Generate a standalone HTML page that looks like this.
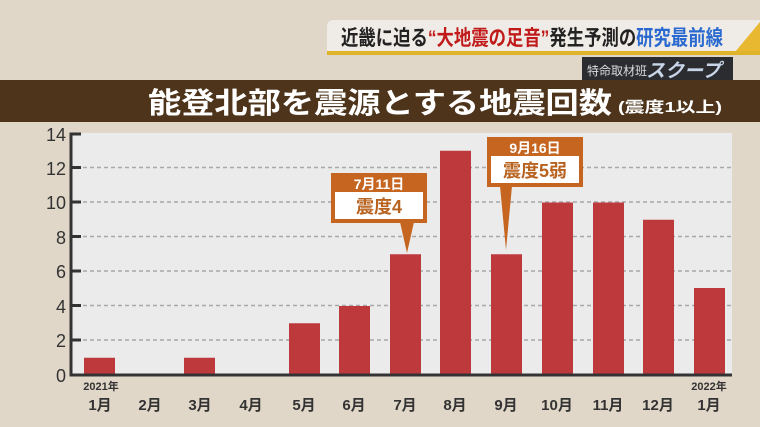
<!DOCTYPE html>
<html><head><meta charset="utf-8"><style>
html,body{margin:0;padding:0;background:#e0d7c9;}
svg{display:block;}
text{font-family:"Liberation Sans","Noto Sans CJK JP",sans-serif;}
</style></head><body>
<svg width="760" height="427" viewBox="0 0 760 427" xmlns="http://www.w3.org/2000/svg">
<rect width="760" height="427" fill="#e0d7c9"/>
<!-- top banner -->
<path d="M334 20 H760 V52 H327 V27 Q327 20 334 20Z" fill="#efebe6"/>
<path d="M735 52 L760 22 V52Z" fill="#e8b830"/>
<rect x="327" y="51" width="433" height="4" fill="#e0b42a"/>
<text x="341" y="45" font-size="21" font-weight="bold" fill="#222" textLength="382" lengthAdjust="spacingAndGlyphs">近畿に迫る<tspan fill="#c01a1a">“大地震の足音”</tspan>発生予測の<tspan fill="#2a6ad0">研究最前線</tspan></text>
<rect x="582" y="57" width="151" height="25" fill="#2a2c30"/>
<text x="587" y="75" font-size="12" fill="#ddd" font-family="Liberation Serif,'Noto Serif CJK SC',serif">特命取材班</text>
<text x="646" y="77" font-size="19" font-style="italic" font-weight="bold" fill="#c8d4e8">スクープ</text>
<!-- header -->
<rect x="0" y="80" width="760" height="42" fill="#4d341b"/>
<text x="148" y="113" font-size="29" font-weight="bold" fill="#fff" textLength="464" lengthAdjust="spacingAndGlyphs">能登北部を震源とする地震回数</text>
<text x="618" y="112" font-size="15" font-weight="bold" fill="#fff" textLength="104" lengthAdjust="spacingAndGlyphs">(震度1以上)</text>
<!-- plot bg -->
<rect x="72" y="133" width="660" height="242" fill="#ebebeb"/>
<g stroke="#a8a8a8" stroke-width="1.5" stroke-dasharray="4,3">
<line x1="76" y1="167.5" x2="732" y2="167.5"/>
<line x1="76" y1="202" x2="732" y2="202"/>
<line x1="76" y1="236.5" x2="732" y2="236.5"/>
<line x1="76" y1="271" x2="732" y2="271"/>
<line x1="76" y1="305.5" x2="732" y2="305.5"/>
<line x1="76" y1="340" x2="732" y2="340"/>
</g>
<g fill="#be393c">
<rect x="84" y="357.75" width="31" height="17.25"/>
<rect x="184" y="357.75" width="31" height="17.25"/>
<rect x="289" y="323.25" width="31" height="51.75"/>
<rect x="339" y="306" width="31" height="69"/>
<rect x="390" y="254.25" width="31" height="120.75"/>
<rect x="440" y="150.75" width="31" height="224.25"/>
<rect x="491" y="254.25" width="31" height="120.75"/>
<rect x="542" y="202.5" width="31" height="172.5"/>
<rect x="593" y="202.5" width="31" height="172.5"/>
<rect x="643" y="219.75" width="31" height="155.25"/>
<rect x="694" y="288" width="31" height="87"/>
</g>
<path d="M81 134 H71 V375 H732" fill="none" stroke="#333" stroke-width="3"/>
<g stroke="#333" stroke-width="3">
<line x1="71" y1="167.5" x2="81" y2="167.5"/><line x1="71" y1="202" x2="81" y2="202"/>
<line x1="71" y1="236.5" x2="81" y2="236.5"/><line x1="71" y1="271" x2="81" y2="271"/>
<line x1="71" y1="305.5" x2="81" y2="305.5"/><line x1="71" y1="340" x2="81" y2="340"/>
</g>
<g font-size="18" fill="#333" text-anchor="end">
<text x="66" y="141">14</text><text x="66" y="175">12</text><text x="66" y="209">10</text>
<text x="66" y="244">8</text><text x="66" y="278">6</text><text x="66" y="313">4</text>
<text x="66" y="347">2</text><text x="66" y="382">0</text>
</g>
<g font-size="15" fill="#333" text-anchor="middle" font-weight="bold">
<text x="100" y="410">1月</text><text x="150" y="410">2月</text><text x="200" y="410">3月</text>
<text x="251" y="410">4月</text><text x="304" y="410">5月</text><text x="354" y="410">6月</text>
<text x="405" y="410">7月</text><text x="455" y="410">8月</text><text x="506" y="410">9月</text>
<text x="557" y="410">10月</text><text x="608" y="410">11月</text><text x="658" y="410">12月</text>
<text x="709" y="410">1月</text>
<text x="101" y="390" font-size="11">2021年</text>
<text x="709" y="390" font-size="11">2022年</text>
</g>
<path d="M400 222 L407 253 L414 222Z" fill="#c5651f"/>
<rect x="331" y="173" width="96" height="50" fill="#c5651f"/>
<rect x="335" y="192" width="88" height="27" fill="#fff"/>
<text x="379" y="189" font-size="14" font-weight="bold" fill="#fff" text-anchor="middle">7月11日</text>
<text x="379" y="213" font-size="18" font-weight="bold" fill="#b8621f" text-anchor="middle">震度4</text>
<path d="M500 186 L506 250 L512 186Z" fill="#c5651f"/>
<rect x="487" y="137" width="96" height="50" fill="#c5651f"/>
<rect x="491" y="156" width="88" height="27" fill="#fff"/>
<text x="535" y="153" font-size="14" font-weight="bold" fill="#fff" text-anchor="middle">9月16日</text>
<text x="535" y="177" font-size="18" font-weight="bold" fill="#b8621f" text-anchor="middle">震度5弱</text>
</svg>
</body></html>
